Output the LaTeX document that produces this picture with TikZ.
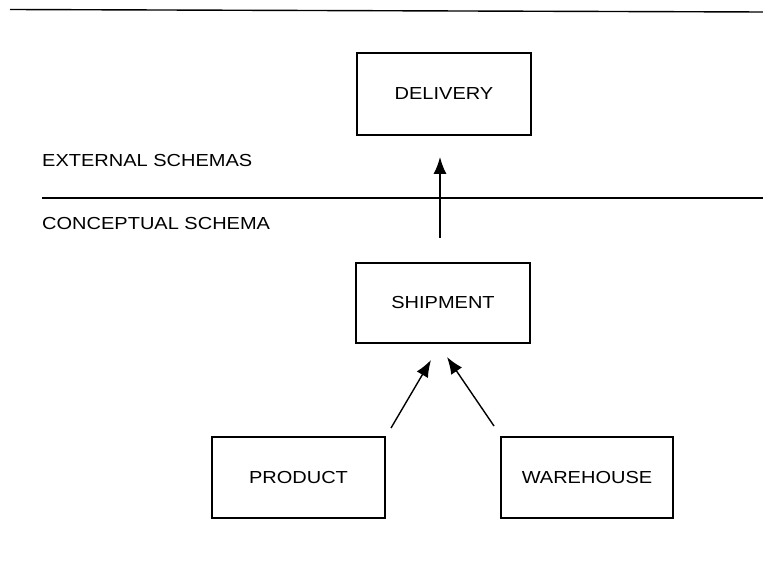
\documentclass[tikz,border=0pt]{standalone}
\usepackage{fontspec}
\setmainfont{Liberation Sans}[FakeStretch=1.15]
\usetikzlibrary{arrows.meta}

\begin{document}
\begin{tikzpicture}[x=1pt, y=-1pt,
  schemabox/.style={draw, line width=1.3pt, rectangle, inner sep=0pt,
    minimum width=173pt, minimum height=81pt,
    font=\fontsize{17.4}{20}\selectfont},
  levellabel/.style={anchor=base west, inner sep=0pt,
    font=\fontsize{17.4}{20}\selectfont},
  divider/.style={line width=1.4pt},
  derive/.style={line width=1.4pt, -{Latex[length=17pt, width=13pt]}}]

\useasboundingbox (0,0) rectangle (763,561);

% level dividers
\coordinate (topL) at (10,9.5);
\coordinate (topR) at (763,12);
\coordinate (midL) at (42,198);
\coordinate (midR) at (763,198);
\draw[divider] (topL) -- (topR);
\draw[divider] (midL) -- (midR);

% level labels
\node[levellabel] (ext) at (42,167) {EXTERNAL SCHEMAS};
\node[levellabel] (con) at (42,230) {CONCEPTUAL SCHEMA};

% schema boxes
\node[schemabox, minimum width=174pt, minimum height=82pt] (delivery) at (444,94) {DELIVERY};
\node[schemabox, minimum width=174pt, minimum height=80pt] (shipment) at (443,303) {SHIPMENT};
\node[schemabox] (product) at (298.5,477.5) {PRODUCT};
\node[schemabox, minimum width=172pt] (warehouse) at (587,477.5) {WAREHOUSE};

% arrow end points (arrows stop short of the boxes)
\coordinate (shipTail) at (440,238);
\coordinate (delivTip) at (440,157);
\coordinate (prodTail) at (391,428);
\coordinate (prodTip) at (431,360);
\coordinate (wareTail) at (494,426);
\coordinate (wareTip) at (447,357);

\draw[derive] (shipTail) -- (delivTip);
\draw[derive] (prodTail) -- (prodTip);
\draw[derive] (wareTail) -- (wareTip);

\end{tikzpicture}
\end{document}
